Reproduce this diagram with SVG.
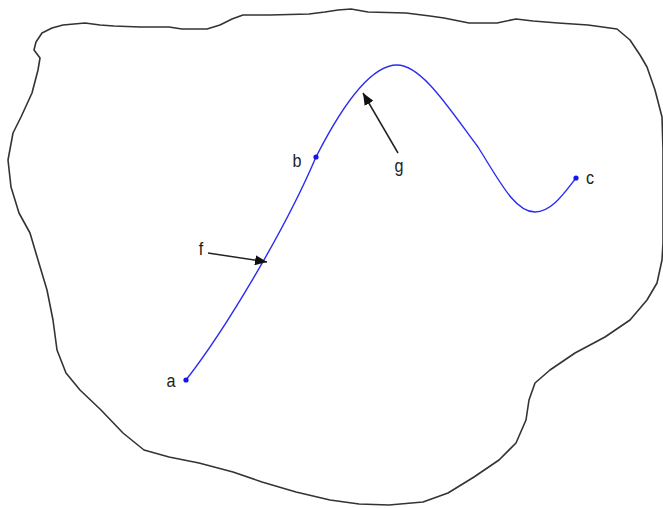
<svg xmlns="http://www.w3.org/2000/svg" width="663" height="508" viewBox="0 0 663 508">
<style>
.outline{fill:none;stroke:#333;stroke-width:1.6;stroke-linejoin:round}
.curve{fill:none;stroke:#2b2bf0;stroke-width:1.4}
.pt{fill:#1515ee}
.lbl{font-family:"Liberation Sans",Arial,sans-serif;font-size:19px;fill:#222}
.arr{stroke:#222;stroke-width:1.5;fill:none}
</style>
<defs>
<marker id="ah" viewBox="0 0 12 10" refX="12" refY="5" markerWidth="12" markerHeight="10" markerUnits="userSpaceOnUse" orient="auto">
<path d="M0,0 L12,5 L0,10 Z" fill="#111"/>
</marker>
</defs>
<g id="region">
<path class="outline" d="M34,50 L36,42 L42,33 L52,28 L63,25 L85,23 L100,25 L114,26 L140,27 L169,27 L182,29 L207,29 L220,25 L232,19 L243,15 L270,15 L309,14 L325,12 L338,10 L351,9 L368,12 L406,13 L430,16 L444,18 L469,23 L497,23 L516,19 L533,21 L558,23 L588,25 L617,29 L630,40 L640,55 L647,67 L655,90 L662,117 L663,150 L663,243 L662,260 L657,283 L647,300 L630,320 L605,337 L575,353 L550,370 L535,383 L529,400 L526,420 L516,443 L499,460 L474,477 L448,493 L423,502 L389,505 L359,504 L330,500 L296,492 L262,482 L233,472 L199,463 L169,457 L144,450 L123,433 L101,410 L80,390 L66,373 L57,350 L53,320 L47,290 L38,260 L30,233 L19,213 L11,187 L8,160 L13,133 L21,117 L32,93 L38,70 L40,58 Z"/>
</g>
<g id="curve">
<path class="curve" d="M186,380 C225,330 285,230 316,157 C345,100 372,65 397,65 C422,65 450,110 478,147 C500,182 515,212 535,212 C552,212 565,192 576,178"/>
</g>
<g id="point-a"><circle class="pt" cx="186" cy="380" r="2.6"/><text class="lbl" transform="translate(171,387) scale(0.85,1)" text-anchor="middle">a</text></g>
<g id="point-b"><circle class="pt" cx="316" cy="157" r="2.6"/><text class="lbl" transform="translate(297,167) scale(0.85,1)" text-anchor="middle">b</text></g>
<g id="point-c"><circle class="pt" cx="576" cy="178" r="2.6"/><text class="lbl" transform="translate(590,184) scale(0.85,1)" text-anchor="middle">c</text></g>
<g id="label-f"><text class="lbl" transform="translate(201,255) scale(0.85,1)" text-anchor="middle">f</text></g>
<g id="label-g"><text class="lbl" transform="translate(399,172) scale(0.85,1)" text-anchor="middle">g</text></g>
<g id="connectors">
<line class="arr" x1="208" y1="253" x2="267" y2="262" marker-end="url(#ah)"/>
<line class="arr" x1="398" y1="153" x2="363" y2="93" marker-end="url(#ah)"/>
</g>
</svg>
